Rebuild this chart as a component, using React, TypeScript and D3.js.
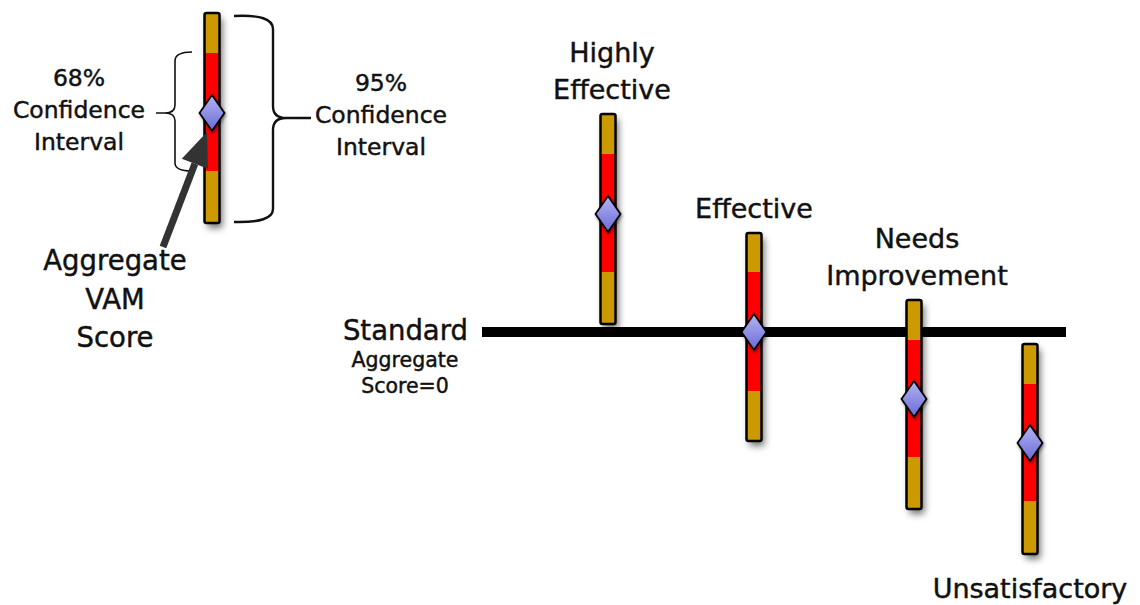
import React from 'react';
import * as d3 from 'd3';

// rating categories and their aggregate scores (in standard-error units, 0 = standard)
const categories = ['Highly Effective', 'Effective', 'Needs Improvement', 'Unsatisfactory'];
const scores = [2.36, 0, -1.34, -2.22];
// confidence interval half-widths above / below the score
const ci95Upper = [2.0, 1.98, 1.98, 1.98];
const ci95Lower = [2.2, 2.18, 2.2, 2.22];
const ci68Upper = [1.2, 1.2, 1.18, 1.18];
const ci68Lower = [1.16, 1.18, 1.16, 1.16];
const labelLines = [['Highly', 'Effective'], ['Effective'], ['Needs', 'Improvement'], ['Unsatisfactory']];

// the key bar in the upper left
const legendScore = 0;
const legendCi95 = [2.0, 2.2];
const legendCi68 = [1.2, 1.16];

const W = 1140;
const H = 605;
const FONT = "'DejaVu Sans', 'Open Sans', sans-serif";
const ORANGE = '#cc9900';
const RED = '#ff0000';
const BAR_W = 15;
const INK = '#111';

const Bar = ({ cx, y, score, up95, lo95, up68, lo68 }) => {
  const top = y(score + up95);
  const bottom = y(score - lo95);
  const rTop = y(score + up68);
  const rBottom = y(score - lo68);
  const cy = y(score);
  const dw = 12.5;
  const dh = 18;
  const diamond = d3.line()([
    [cx, cy - dh],
    [cx + dw, cy],
    [cx, cy + dh],
    [cx - dw, cy],
  ]) + 'Z';
  return (
    <g>
      <g filter="url(#shadow)">
        <rect x={cx - BAR_W / 2} y={top} width={BAR_W} height={bottom - top} rx={2} fill={ORANGE} />
      </g>
      <rect x={cx - BAR_W / 2} y={rTop} width={BAR_W} height={rBottom - rTop} fill={RED} />
      <rect x={cx - BAR_W / 2} y={top} width={BAR_W} height={bottom - top} rx={2} fill="none" stroke="#000" strokeWidth={2.5} />
      <path d={diamond} fill="url(#diamondGrad)" stroke="#000" strokeWidth={1.8} filter="url(#dshadow)" />
    </g>
  );
};

export default function App() {
  const y = d3.scaleLinear().domain([-1, 1]).range([382, 282]);
  const x = d3.scaleOrdinal<string, number>().domain(categories).range([608, 754, 914, 1030]);
  const ly = d3.scaleLinear().domain([-1, 1]).range([163, 63]);
  const lx = 212;
  const std = y(0);

  // braces of the key
  const lTop = ly(legendScore + legendCi95[0]);
  const lBot = ly(legendScore - legendCi95[1]);
  const rTop = ly(legendScore + legendCi68[0]);
  const rBot = ly(legendScore - legendCi68[1]);
  const lMid = ly(legendScore);
  const smallBrace = `M192,${rTop - 1} Q175,${rTop - 1} 175,${rTop + 8} L175,${lMid - 8} Q175,${lMid} 165,${lMid} L156,${lMid}
    M165,${lMid} Q175,${lMid} 175,${lMid + 8} L175,${rBot - 8} Q175,${rBot} 192,${rBot}`;
  const bigMid = lMid + 5;
  const bigBrace = `M234,${lTop + 3} Q273,${lTop + 1} 273,${lTop + 16} L273,${bigMid - 12} Q273,${bigMid} 286,${bigMid} L311,${bigMid}
    M286,${bigMid} Q273,${bigMid} 273,${bigMid + 12} L273,${lBot - 14} Q273,${lBot} 234,${lBot - 1}`;

  // arrow from the label to the diamond
  const tip: [number, number] = [207, lMid + 19];
  const tail: [number, number] = [163, 247];
  const ang = Math.atan2(tip[1] - tail[1], tip[0] - tail[0]);
  const headLen = 34;
  const headHalf = 14;
  const base: [number, number] = [tip[0] - headLen * Math.cos(ang), tip[1] - headLen * Math.sin(ang)];
  const nx = -Math.sin(ang);
  const ny = Math.cos(ang);
  const head = d3.line()([
    tip,
    [base[0] + nx * headHalf, base[1] + ny * headHalf],
    [base[0] - nx * headHalf, base[1] - ny * headHalf],
  ]) + 'Z';

  const textStyle = { fill: INK, stroke: INK, strokeWidth: 0.45 };

  return (
    <svg width={W} height={H} style={{ position: 'absolute', left: 0, top: 0, background: '#fff' }} fontFamily={FONT}>
      <defs>
        <filter id="shadow" x="-100%" y="-10%" width="300%" height="130%">
          <feDropShadow dx={3} dy={5} stdDeviation={3.5} floodColor="#000" floodOpacity={0.55} />
        </filter>
        <filter id="dshadow" x="-50%" y="-50%" width="200%" height="200%">
          <feDropShadow dx={1} dy={2} stdDeviation={1.5} floodColor="#000" floodOpacity={0.4} />
        </filter>
        <linearGradient id="diamondGrad" x1="0" y1="0" x2="0" y2="1">
          <stop offset="0%" stopColor="#b4b4f4" />
          <stop offset="100%" stopColor="#6a6ad6" />
        </linearGradient>
      </defs>

      {/* key */}
      <Bar cx={lx} y={ly} score={legendScore} up95={legendCi95[0]} lo95={legendCi95[1]} up68={legendCi68[0]} lo68={legendCi68[1]} />
      <path d={smallBrace} fill="none" stroke={INK} strokeWidth={1.6} />
      <path d={bigBrace} fill="none" stroke={INK} strokeWidth={2.4} />
      <line x1={tail[0]} y1={tail[1]} x2={base[0]} y2={base[1]} stroke="#333" strokeWidth={7} />
      <path d={head} fill="#333" />
      <g fontSize={23.5} textAnchor="middle" style={textStyle}>
        <text x={79} y={86}>68%</text>
        <text x={79} y={118}>Confidence</text>
        <text x={79} y={150}>Interval</text>
        <text x={381} y={91}>95%</text>
        <text x={381} y={123}>Confidence</text>
        <text x={381} y={155}>Interval</text>
      </g>
      <g fontSize={27.5} textAnchor="middle" style={textStyle}>
        <text x={115} y={270}>Aggregate</text>
        <text x={115} y={309}>VAM</text>
        <text x={115} y={347}>Score</text>
      </g>

      {/* standard line */}
      <line x1={482} x2={1066} y1={std} y2={std} stroke="#000" strokeWidth={10} />
      <text x={468} y={std + 8} fontSize={27.5} textAnchor="end" style={textStyle}>Standard</text>
      <g fontSize={20.5} textAnchor="middle" style={textStyle}>
        <text x={405} y={std + 35}>Aggregate</text>
        <text x={405} y={std + 61}>Score=0</text>
      </g>

      {/* rating bars */}
      {categories.map((c, i) => (
        <Bar
          key={c}
          cx={x(c)}
          y={y}
          score={scores[i]}
          up95={ci95Upper[i]}
          lo95={ci95Lower[i]}
          up68={ci68Upper[i]}
          lo68={ci68Lower[i]}
        />
      ))}

      {/* rating labels */}
      <g fontSize={27} textAnchor="middle" style={textStyle}>
        {categories.map((c, i) => {
          const lines = labelLines[i];
          const below = scores[i] < -2;
          if (below) {
            const b = y(scores[i] - ci95Lower[i]);
            return lines.map((t, j) => (
              <text key={c + j} x={x(c)} y={b + 44 + j * 38}>{t}</text>
            ));
          }
          const t0 = y(scores[i] + ci95Upper[i]);
          return lines.map((t, j) => (
            <text key={c + j} x={x(c) + (i === 0 ? 4 : i === 2 ? 3 : 0)} y={t0 - 15 - (lines.length - 1 - j) * 37}>{t}</text>
          ));
        })}
      </g>
    </svg>
  );
}
